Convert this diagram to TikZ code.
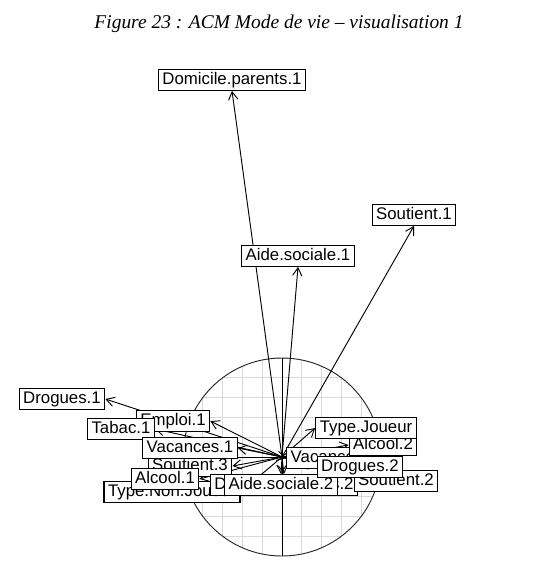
\documentclass[tikz,border=0pt]{standalone}
\usepackage{fontspec}
\setmainfont{Liberation Sans}
\newfontfamily\titlefont{Liberation Serif}
\usetikzlibrary{arrows.meta}
\pgfdeclarelayer{gridlayer}
\pgfdeclarelayer{arrowlayer}
\pgfsetlayers{gridlayer,arrowlayer,main}
\begin{document}
\begin{tikzpicture}[x=0.75pt,y=-0.75pt,
  lab/.style={draw, fill=white, line width=0.9pt, font=\fontsize{12.6}{14}\selectfont,
    inner xsep=3pt, inner ysep=1.8pt, text height=9.2pt, text depth=2.6pt},
  vec/.style={line width=0.7pt, -{Straight Barb[length=6pt,width=7pt]}},
  gridline/.style={gray!30, line width=0.6pt},
  axisline/.style={line width=0.7pt, black}]
\useasboundingbox (0,0) rectangle (533,569);
\node[font=\titlefont\itshape\fontsize{14.6}{17}\selectfont, anchor=base] (title) at (279,28) {Figure 23 : ACM Mode de vie – visualisation 1};

\coordinate (O) at (282,457);

% labels (drawing order matters)
\node[lab] (dp1) at (232,80) {Domicile.parents.1};
\node[lab] (s1) at (414,215) {Soutient.1};
\node[lab] (as1) at (298,256) {Aide.sociale.1};
\node[lab] (d1) at (62,399) {Drogues.1};
\node[lab] (e1) at (173,421) {Emploi.1};
\node[lab] (t1) at (121,429) {Tabac.1};
\node[lab] (s3) at (190,466) {Soutient.3};
\node[lab] (v1) at (190,448) {Vacances.1};
\node[lab] (tnj) at (172,492) {Type.Non.Joueur};
\node[lab] (a1) at (165,479) {Alcool.1};
\node[lab] (dp2) at (284,485) {Domicile.parents.2};
\node[lab] (as2) at (281,485) {Aide.sociale.2};
\node[lab] (v2) at (334,458) {Vacances.2};
\node[lab] (s2) at (396,481) {Soutient.2};
\node[lab] (d2) at (360,467) {Drogues.2};
\node[lab] (a2) at (383,445) {Alcool.2};
\node[lab] (tj) at (366,428) {Type.Joueur};

\begin{pgfonlayer}{gridlayer}
  \begin{scope}
    \clip (O) circle[radius=74.25pt];
    \foreach \k in {-5,...,5} {
      \draw[gridline] ({282+\k*19.8},355) -- ({282+\k*19.8},559);
      \draw[gridline] (180,{457+\k*19.8}) -- (384,{457+\k*19.8});
    }
  \end{scope}
  \draw[line width=0.7pt, black!85] (O) circle[radius=74.25pt];
  \draw[axisline] (282,358) -- (282,556);
  \draw[axisline] (183,457) -- (381,457);
\end{pgfonlayer}

\begin{pgfonlayer}{arrowlayer}
  \draw[vec] (O) -- (dp1.south);
  \draw[vec] (O) -- (s1.south);
  \draw[vec] (O) -- (as1.south);
  \draw[vec] (O) -- (d1.east);
  \draw[vec] (O) -- (e1.east);
  \draw[vec] (O) -- (t1.east);
  \draw[vec] (O) -- (v1.east);
  \draw[vec] (O) -- (s3.east);
  \draw[vec] (O) -- (a1.east);
  \draw[vec] (O) -- (tnj.east);
  \draw[vec] (O) -- (dp2.north);
  \draw[vec] (O) -- (as2.north);
  \draw[vec] (O) -- (tj.west);
  \draw[vec] (O) -- (a2.west);
  \draw[vec] (O) -- (v2.west);
  \draw[vec] (O) -- (d2.west);
  \draw[vec] (O) -- (s2.west);
\end{pgfonlayer}
\end{tikzpicture}
\end{document}
